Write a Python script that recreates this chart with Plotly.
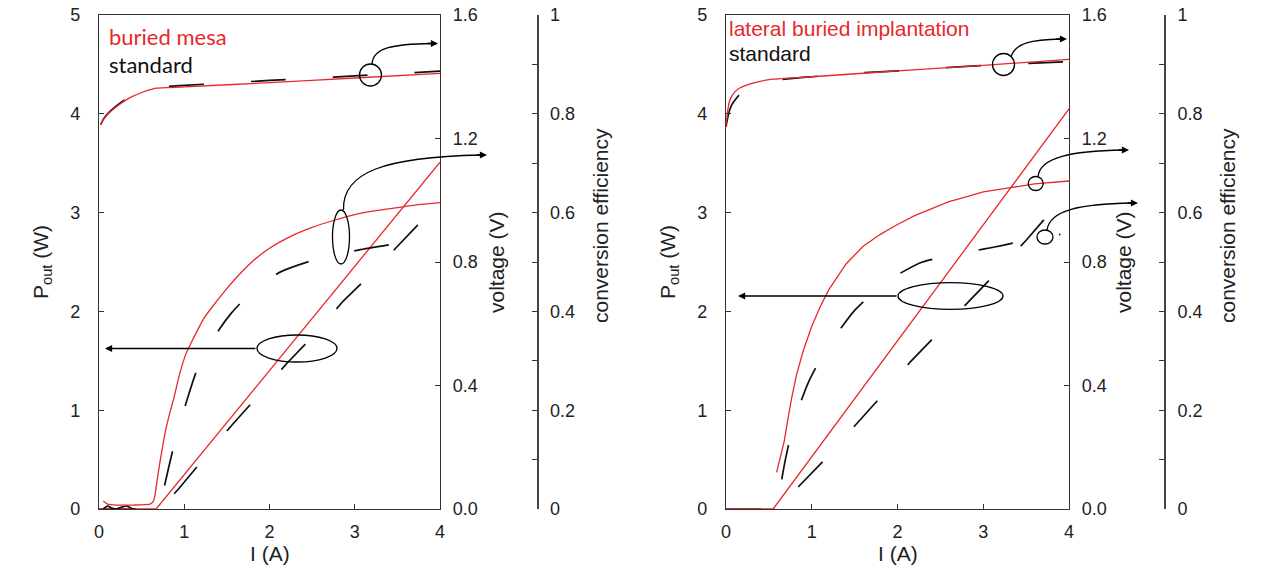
import plotly.graph_objects as go

W, H = 1261, 571
PAGE_OFF = 0  # body margin removed by post_script below

# ---------------- data: panel 1 (buried mesa) ----------------
bm_v_i = [0.02, 0.05, 0.1, 0.2, 0.3, 0.4, 0.5, 0.6, 0.67, 1.0, 2.0, 3.0, 4.0]
bm_v = [1.245, 1.26, 1.278, 1.302, 1.322, 1.337, 1.349, 1.358, 1.363, 1.367, 1.381, 1.396, 1.411]
st1_v_i = [0.02, 0.05, 0.1, 0.2, 0.3, 0.4, 0.5, 0.6, 0.7, 1.0, 1.5, 2.0, 2.5, 3.0, 3.5, 4.0]
st1_v = [1.245, 1.262, 1.28, 1.305, 1.325, 1.34, 1.352, 1.362, 1.367, 1.372, 1.38, 1.388, 1.395, 1.403, 1.41, 1.418]

bm_e_i = [0.05, 0.1, 0.2, 0.4, 0.6, 0.63, 0.65, 0.68, 0.71, 0.75, 0.78, 0.83, 0.88, 0.95, 1.02, 1.08,
          1.15, 1.23, 1.35, 1.47, 1.6, 1.78, 2.0, 2.25, 2.5, 2.75, 3.0, 3.25, 3.5, 3.75, 4.0]
bm_e = [0.016, 0.010, 0.008, 0.008, 0.010, 0.014, 0.022, 0.056, 0.090, 0.130, 0.158, 0.194, 0.226, 0.276,
        0.314, 0.336, 0.360, 0.386, 0.414, 0.440, 0.466, 0.498, 0.528, 0.552, 0.570, 0.584, 0.596, 0.604,
        0.610, 0.616, 0.620]
st1_e_i = [0.05, 0.1, 0.15, 0.2, 0.27, 0.33, 0.4, 0.45, 0.6, 0.72, 0.77, 0.82, 0.87, 0.95, 1.02, 1.15,
           1.3, 1.42, 1.55, 1.69, 1.9, 2.13, 2.52, 3.04, 3.45, 3.9]
st1_e = [0.0, 0.006, 0.002, 0.0, 0.004, 0.006, 0.0, 0.0, 0.0, 0.004, 0.048, 0.086, 0.122, 0.172, 0.214,
         0.282, 0.330, 0.366, 0.396, 0.422, 0.454, 0.480, 0.504, 0.524, 0.536, 0.548]

bm_p_i = [0.0, 0.6, 0.67, 4.0]
bm_p = [0.0, 0.0, 0.0, 3.51]
st1_p_i = [0.0, 0.72, 0.93, 1.2, 1.56, 1.84, 2.21, 2.5, 2.87, 3.16, 3.55, 3.84, 3.9]
st1_p = [0.0, 0.0, 0.2, 0.48, 0.85, 1.12, 1.48, 1.74, 2.11, 2.35, 2.70, 2.96, 3.02]

# ---------------- data: panel 2 (lateral buried implantation) ----------------
lb_v_i = [0.0, 0.02, 0.04, 0.07, 0.1, 0.15, 0.25, 0.35, 0.45, 0.55, 1.0, 2.0, 3.0, 4.0]
lb_v = [1.238, 1.29, 1.32, 1.338, 1.35, 1.362, 1.374, 1.382, 1.388, 1.392, 1.400, 1.419, 1.437, 1.456]
st2_v_i = [0.0, 0.03, 0.06, 0.09, 0.15, 0.25, 0.4, 0.6, 1.0, 1.58, 2.0, 2.55, 2.96, 3.53, 3.94]
st2_v = [1.238, 1.28, 1.305, 1.319, 1.34, 1.36, 1.377, 1.389, 1.40, 1.413, 1.419, 1.429, 1.436, 1.443, 1.448]

lb_e_i = [0.59, 0.64, 0.68, 0.72, 0.76, 0.82, 0.9, 1.0, 1.1, 1.2, 1.4, 1.6, 1.8, 2.0, 2.2, 2.4, 2.6,
          2.8, 3.0, 3.3, 3.6, 4.0]
lb_e = [0.074, 0.110, 0.138, 0.180, 0.220, 0.270, 0.320, 0.370, 0.410, 0.444, 0.496, 0.532, 0.556,
        0.576, 0.594, 0.608, 0.622, 0.632, 0.642, 0.650, 0.658, 0.664]
st2_e_i = [0.65, 0.69, 0.78, 0.87, 0.97, 1.17, 1.5, 1.8, 2.0, 2.29, 2.69, 3.0, 3.24, 3.5, 3.9]
st2_e = [0.060, 0.098, 0.168, 0.216, 0.260, 0.324, 0.402, 0.450, 0.474, 0.500, 0.516, 0.526, 0.534,
         0.544, 0.556]

lb_p_i = [0.0, 0.55, 4.0]
lb_p = [0.0, 0.0, 4.05]
st2_p_i = [0.0, 0.61, 0.85, 1.14, 1.51, 1.79, 2.15, 2.44, 2.83, 3.12, 3.5, 3.77]
st2_p = [0.0, 0.0, 0.23, 0.49, 0.85, 1.12, 1.49, 1.75, 2.11, 2.36, 2.72, 2.99]

x_ticks = [0, 1, 2, 3, 4]
p_ticks = [0, 1, 2, 3, 4, 5]
v_ticks = [0.0, 0.4, 0.8, 1.2, 1.6]
e_ticks = [0, 0.2, 0.4, 0.6, 0.8, 1]
e_ticktext = ["0", "0.2", "0.4", "0.6", "0.8", "1"]

RED = "#e8282b"
BLACK = "#111111"
DASH = "35px,47px"
AX = "#333333"
FONT = "Liberation Sans, Arial, sans-serif"


def X(px):
    return (px - PAGE_OFF) / W


def Y(py):
    return 1 - (py - PAGE_OFF) / H


fig = go.Figure()


def add(x, y, xa, ya, color, dash=None, width=1.3, smooth=False):
    line = dict(color=color, width=width, dash=dash)
    if smooth:
        line.update(shape="spline", smoothing=0.6)
    fig.add_trace(go.Scatter(x=x, y=y, xaxis=xa, yaxis=ya, mode="lines", showlegend=False,
                             line=line, hoverinfo="skip"))


# panel 1
add(st1_v_i, st1_v, "x", "y2", BLACK, DASH, 1.7, True)
add(st1_e_i, st1_e, "x", "y3", BLACK, DASH, 1.7, True)
add(st1_p_i, st1_p, "x", "y", BLACK, DASH, 1.7)
add(bm_v_i, bm_v, "x", "y2", RED, smooth=True)
add(bm_e_i, bm_e, "x", "y3", RED, smooth=True)
add(bm_p_i, bm_p, "x", "y", RED)
# panel 2
add(st2_v_i, st2_v, "x2", "y5", BLACK, DASH, 1.7, True)
add(st2_e_i, st2_e, "x2", "y6", BLACK, DASH, 1.7, True)
add(st2_p_i, st2_p, "x2", "y4", BLACK, DASH, 1.7)
add(lb_v_i, lb_v, "x2", "y5", RED, smooth=True)
add(lb_e_i, lb_e, "x2", "y6", RED)
add(lb_p_i, lb_p, "x2", "y4", RED)

tickfont = dict(family=FONT, size=18, color="#222222")
ydom = [Y(509), Y(15)]
common = dict(showgrid=False, zeroline=False, showline=True, linecolor=AX, linewidth=1.3,
              ticks="inside", ticklen=5, tickcolor=AX, tickwidth=1.2, tickfont=tickfont,
              automargin=False, ticklabeloverflow="allow")


def panel(xname, yp, yv, ye, x0, x1, epos, xa_ref, yp_ref):
    lay = {}
    lay[xname] = dict(domain=[X(x0), X(x1)], anchor=yp_ref, range=[0, 4], tickvals=x_ticks,
                      mirror=True, ticklabelstandoff=6, **common)
    lay[yp] = dict(domain=ydom, anchor=xa_ref, range=[0, 5], tickvals=p_ticks,
                   ticklabelstandoff=14, **common)
    lay[yv] = dict(overlaying=yp_ref, anchor=xa_ref, side="right", range=[0, 1.6], tickvals=v_ticks,
                   tickformat=".1f", ticklabelstandoff=8, **common)
    ecommon = dict(common)
    ecommon["linewidth"] = 2
    ecommon["linecolor"] = "#444444"
    lay[ye] = dict(overlaying=yp_ref, anchor="free", position=X(epos), side="right", range=[0, 1],
                   tickvals=e_ticks, ticktext=e_ticktext, ticklabelstandoff=8,
                   minor=dict(ticks="inside", ticklen=5, tickcolor=AX, tickwidth=1.2, dtick=0.1),
                   **ecommon)
    return lay


layout = {}
layout.update(panel("xaxis", "yaxis", "yaxis2", "yaxis3", 99, 440, 537.5, "x", "y"))
layout.update(panel("xaxis2", "yaxis4", "yaxis5", "yaxis6", 726, 1069, 1165, "x2", "y4"))

fig.update_layout(width=W, height=H, margin=dict(l=0, r=0, t=0, b=0, pad=0, autoexpand=False),
                  plot_bgcolor="white", paper_bgcolor="white", showlegend=False, **layout)

# ---------------- annotation shapes (ellipses / arrows) ----------------
LW = dict(color="black", width=1.3)
shapes = []


def ellipse(cx, cy, rx, ry):
    shapes.append(dict(type="circle", xref="paper", yref="paper", x0=X(cx - rx), x1=X(cx + rx),
                       y0=Y(cy + ry), y1=Y(cy - ry), line=LW, layer="above"))


def curve(p0, c1, c2, p1):
    path = "M {},{} C {},{} {},{} {},{}".format(X(p0[0]), Y(p0[1]), X(c1[0]), Y(c1[1]),
                                               X(c2[0]), Y(c2[1]), X(p1[0]), Y(p1[1]))
    shapes.append(dict(type="path", xref="paper", yref="paper", path=path, line=LW, layer="above"))


annots = []


def head(tip, tail):
    annots.append(dict(xref="paper", yref="paper", x=X(tip[0]), y=Y(tip[1]),
                       ax=tail[0] - tip[0], ay=tail[1] - tip[1], axref="pixel", ayref="pixel",
                       text="", showarrow=True, arrowhead=2, arrowsize=1.1, arrowwidth=1.3,
                       arrowcolor="black", standoff=0, startstandoff=0))


# panel 1
ellipse(370.5, 75, 11, 11)
curve((372, 64), (373, 48), (392, 44), (432, 43.5))
head((438, 43.5), (426, 43.5))
ellipse(341, 237, 8.5, 27)
curve((343.5, 210), (342, 172), (385, 157), (481, 155))
head((487, 155), (475, 155))
ellipse(297, 348.5, 40, 13.5)
head((105, 348.5), (257, 348.5))
# panel 2
ellipse(1003.5, 64.5, 11, 11)
curve((1011, 57), (1015, 43), (1032, 39.5), (1061, 39))
head((1067, 39), (1055, 39))
ellipse(1035.7, 183.5, 7.5, 7)
curve((1038, 176.5), (1040, 157), (1072, 151), (1123, 150))
head((1129, 150), (1117, 150))
ellipse(1045, 237, 8, 7)
curve((1047, 230), (1050, 210), (1080, 204), (1132, 203))
head((1138, 203), (1126, 203))
ellipse(950.5, 296, 52.5, 13.3)
head((738, 296), (898, 296))

# ---------------- texts ----------------
TF = dict(family=FONT, size=21, color="#222222")


def text(x, y, s, font, angle=0, xanchor="center"):
    annots.append(dict(xref="paper", yref="paper", x=X(x), y=Y(y), text=s, showarrow=False,
                       font=font, textangle=angle, xanchor=xanchor, yanchor="middle"))


text(107, 36, "buried mesa", dict(family="Lato, sans-serif", size=22, color=RED), xanchor="left")
text(107, 65, "standard", dict(family="Lato, sans-serif", size=22, color="#111111"), xanchor="left")
text(727, 29, "lateral buried implantation", dict(family=FONT, size=21, color=RED), xanchor="left")
text(727, 53, "standard", dict(family=FONT, size=21, color="#111111"), xanchor="left")

for off in (0, 627):
    text(42 + off, 262, "P<sub>out</sub> (W)", TF, -90)
    text(496 + off, 262, "voltage (V)", TF, -90)
    text(601 + off, 226, "conversion efficiency", TF, -90)
text(269.5, 553, "I (A)", TF)
text(897.5, 553, "I (A)", TF)

fig.update_layout(shapes=shapes, annotations=annots)
fig.write_html("out.html", config={"displayModeBar": False},
               post_script="document.body.style.margin='0px';")
